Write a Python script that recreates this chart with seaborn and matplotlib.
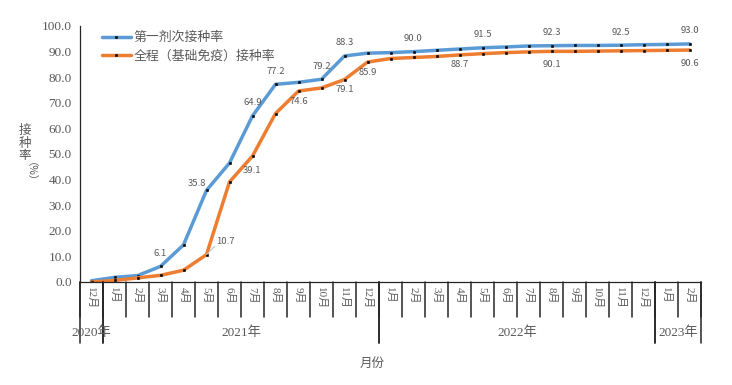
"""
COVID-19 vaccination rate by month (first dose vs. full course)
"""
import pandas as pd
import numpy as np
import matplotlib.pyplot as plt
import seaborn as sns

# data
months = ['12月'] + [f'{m}月' for m in range(1, 13)] * 2 + ['1月', '2月']
years = ['2020年', '2021年', '2022年', '2023年']
year_sizes = [1, 12, 12, 2]

first_dose = [0.5, 1.8, 2.5, 6.1, 14.5, 35.8, 46.5, 64.9, 77.2, 78.0, 79.2, 88.3,
              89.4, 89.6, 90.0, 90.5, 91.0, 91.5, 91.8, 92.2, 92.3, 92.4, 92.4, 92.5,
              92.7, 92.8, 93.0]
full_course = [0.0, 0.6, 1.6, 2.6, 4.6, 10.7, 39.1, 49.2, 65.8, 74.6, 75.8, 79.1,
               85.9, 87.3, 87.7, 88.1, 88.7, 89.2, 89.6, 89.9, 90.1, 90.1, 90.2, 90.3,
               90.4, 90.5, 90.6]

first_label_idx = [3, 5, 7, 8, 10, 11, 14, 17, 20, 23, 26]
full_label_idx = [5, 6, 9, 11, 12, 16, 20, 26]

name_first = '第一剂次接种率'
name_full = '全程（基础免疫）接种率'

df = pd.DataFrame({
    'idx': list(range(len(months))) * 2,
    'rate': first_dose + full_course,
    'series': [name_first] * len(months) + [name_full] * len(months),
})

sns.set_style('white')
plt.rcParams['font.family'] = ['Noto Sans CJK SC', 'DejaVu Sans']
serif = ['Liberation Serif', 'Noto Sans CJK SC']
gray = '#595959'

fig = plt.figure(figsize=(7.32, 3.85), dpi=100)
ax = fig.add_axes([80 / 732, 103 / 385, 621 / 732, 256 / 385])

colors = {name_first: '#5B9BD5', name_full: '#ED7D31'}
for name in [name_first, name_full]:
    sns.lineplot(data=df[df['series'] == name], x='idx', y='rate', ax=ax,
                 color=colors[name], lw=2.5, marker='s', markersize=1.8,
                 markerfacecolor='black', markeredgecolor='black',
                 markeredgewidth=0.4, label=name)

ax.set_xlim(-0.5, len(months) - 0.5)
ax.set_ylim(0, 100)
ax.set_yticks(np.arange(0, 101, 10))
ax.set_yticklabels([f'{v:.1f}' for v in np.arange(0, 101, 10)],
                   family=serif, fontsize=9.5, color=gray)
ax.tick_params(axis='y', direction='out', length=4, width=0.8, color='black', pad=2)
ax.set_xticks([])
ax.set_xlabel('')
ax.set_ylabel('')
for s in ['top', 'right']:
    ax.spines[s].set_visible(False)
for s in ['left', 'bottom']:
    ax.spines[s].set_color('#262626')
    ax.spines[s].set_linewidth(0.9)

# data labels
for i in first_label_idx:
    off = (-10, 7) if i == 5 else (0, 13)
    ax.annotate(f'{first_dose[i]:.1f}', (i, first_dose[i]), xytext=off,
                textcoords='offset pixels', ha='center', va='center',
                fontsize=6.8, color=gray)
for i in full_label_idx:
    if i == 5:
        off = (19, 13)
    elif i == 6:
        off = (22, 11)
    elif i in (20, 26):
        off = (0, -13)
    else:
        off = (0, -10)
    ax.annotate(f'{full_course[i]:.1f}', (i, full_course[i]), xytext=off,
                textcoords='offset pixels', ha='center', va='center',
                fontsize=6.8, color=gray)
ax.plot([5, 5.35], [full_course[5], full_course[5] + 3.2], color='#BFBFBF', lw=0.8)

# multi-level category axis
trans = ax.get_xaxis_transform()
for b in range(len(months) + 1):
    ax.plot([b - 0.5, b - 0.5], [0, -35 / 256], transform=trans,
            color='#262626', lw=1.1, clip_on=False)
for i, m in enumerate(months):
    ax.text(i, -5 / 256, m, transform=trans, rotation=270, ha='center', va='top',
            family=serif, fontsize=8, color=gray)
start = 0
for y, n in zip(years, year_sizes):
    for b in (start, start + n):
        ax.plot([b - 0.5, b - 0.5], [0, -61 / 256], transform=trans,
                color='#262626', lw=1.1, clip_on=False)
    ax.text(start + (n - 1) / 2, -51 / 256, y, transform=trans, ha='center',
            va='center', family=serif, fontsize=9.5, color=gray)
    start += n

fig.text(372 / 732, 1 - 363 / 385, '月份', ha='center', va='center',
         fontsize=9, color=gray)
fig.text(25 / 732, 1 - 143 / 385, '接\n种\n率', ha='center', va='center',
         fontsize=9, color=gray, linespacing=1.0)
fig.text(25 / 732, 1 - 177 / 385, '（%）', ha='center', va='center',
         fontsize=7.5, color=gray, rotation=270)

leg = ax.legend(loc='upper left', bbox_to_anchor=(17 / 621, 1.0), frameon=False,
                fontsize=9.3, handlelength=2.2, handletextpad=0.2,
                labelspacing=0.45, borderaxespad=0)
for t in leg.get_texts():
    t.set_color(gray)

plt.savefig('out.png', dpi=100)
